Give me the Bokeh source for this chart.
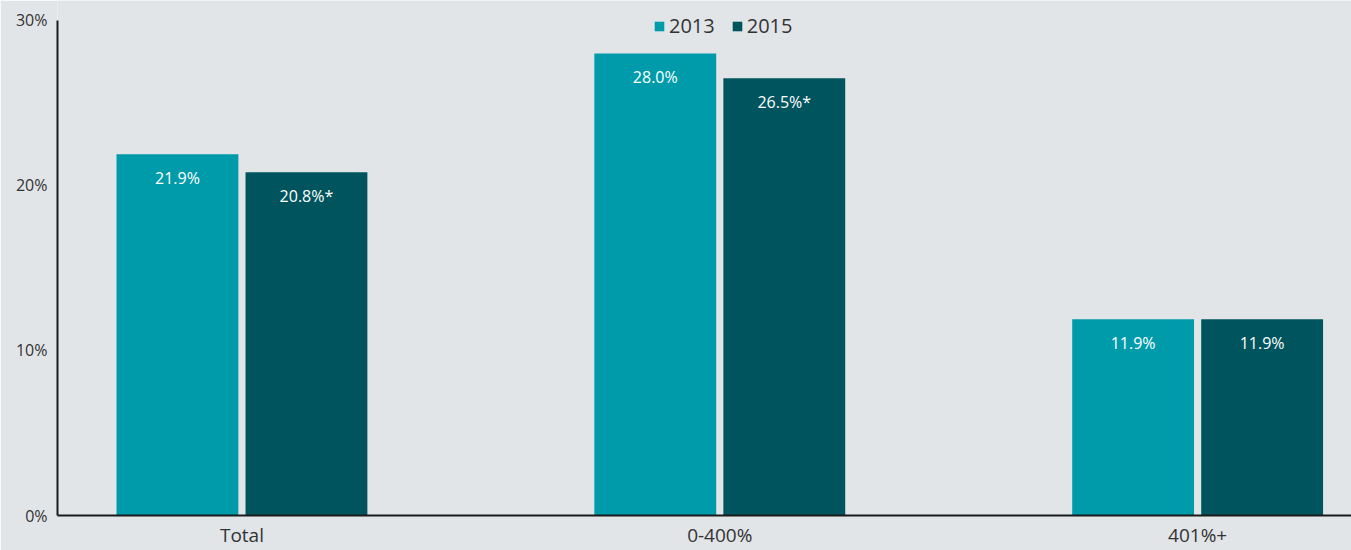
from bokeh.plotting import figure
from bokeh.models import ColumnDataSource, Range1d, FixedTicker, Legend, LegendItem
from bokeh.core.properties import value
from bokeh.embed import file_html
from bokeh.resources import INLINE

categories = ["Total", "0-400%", "401%+"]
series_names = ["2013", "2015"]
values_2013 = [21.9, 28.0, 11.9]
values_2015 = [20.8, 26.5, 11.9]
labels_2013 = ["21.9%", "28.0%", "11.9%"]
labels_2015 = ["20.8%*", "26.5%*", "11.9%"]
y_ticks = [0, 10, 20, 30]
y_tick_labels = ["0%", "10%", "20%", "30%"]

C2013 = "#009BAB"
C2015 = "#00545E"
BG = "#E1E5E8"
TXT = "#333333"
FONT = "Open Sans"

xs = list(range(len(categories)))
off = 0.135
bw = 0.255

src13 = ColumnDataSource(dict(x=[v - off for v in xs], top=values_2013, lab=labels_2013))
src15 = ColumnDataSource(dict(x=[v + off for v in xs], top=values_2015, lab=labels_2015))

p = figure(width=1351, height=550, output_backend="svg", toolbar_location=None,
           x_range=Range1d(-0.386, 2.322), y_range=Range1d(0, 31.21),
           min_border_left=57, min_border_right=0, min_border_top=0, min_border_bottom=35)
p.background_fill_color = BG
p.border_fill_color = BG
p.outline_line_color = None
p.grid.grid_line_color = None

r13 = p.vbar(x="x", top="top", width=bw, source=src13, fill_color=C2013, line_color=None)
r15 = p.vbar(x="x", top="top", width=bw, source=src15, fill_color=C2015, line_color=None)

for s in (src13, src15):
    p.text(x="x", y="top", text="lab", source=s, text_color="white",
           text_font=value(FONT), text_font_size="16px", text_align="center",
           text_baseline="middle", y_offset=24)

p.xaxis.ticker = FixedTicker(ticks=xs)
p.xaxis.major_label_overrides = {i: c for i, c in enumerate(categories)}
p.yaxis.ticker = FixedTicker(ticks=y_ticks)
p.yaxis.major_label_overrides = {t: l for t, l in zip(y_ticks, y_tick_labels)}
p.yaxis.bounds = (y_ticks[0], y_ticks[-1])
for ax in (p.xaxis, p.yaxis):
    ax.axis_line_color = "#1a1a1a"
    ax.axis_line_width = 2
    ax.major_tick_line_color = None
    ax.minor_tick_line_color = None
    ax.major_tick_out = 0
    ax.major_tick_in = 0
    ax.minor_tick_out = 0
    ax.minor_tick_in = 0
    ax.major_label_text_font = FONT
    ax.major_label_text_color = TXT
p.xaxis.major_label_text_font_size = "19px"
p.xaxis.major_label_standoff = 6
p.yaxis.major_label_text_font_size = "16px"
p.yaxis.major_label_standoff = 10

legend = Legend(items=[LegendItem(label=series_names[0], renderers=[r13]),
                       LegendItem(label=series_names[1], renderers=[r15])],
                location=(596, 476), orientation="horizontal",
                background_fill_alpha=0, border_line_color=None,
                label_text_font=FONT, label_text_font_size="20px", label_text_color=TXT,
                glyph_width=12, glyph_height=12, spacing=16, padding=0, margin=0,
                label_standoff=4)
p.add_layout(legend)

open("out.html", "w").write(file_html(p, INLINE))
